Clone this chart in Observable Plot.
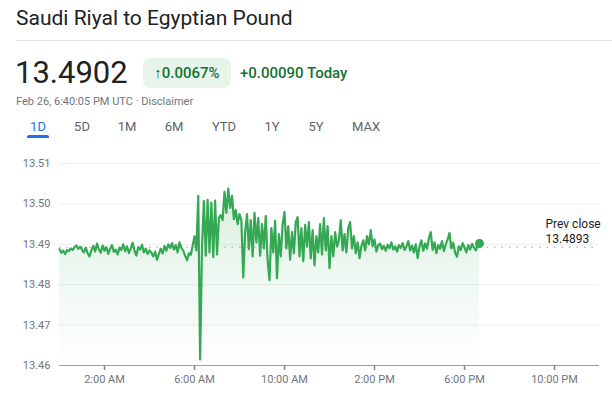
<!DOCTYPE html>
<html>
<head>
<meta charset="utf-8">
<script src="https://cdn.jsdelivr.net/npm/d3@7"></script>
<script src="https://cdn.jsdelivr.net/npm/@observablehq/plot@0.6"></script>
<style>
  html, body { margin: 0; padding: 0; background: #fff; }
  #root { position: relative; width: 612px; height: 398px; overflow: hidden; font-family: Roboto, "Noto Sans", sans-serif; color: #202124; }
  .abs { position: absolute; white-space: nowrap; }
  #title { left: 16px; top: 4px; font-size: 21px; line-height: 28px; color: #202124; }
  #divider { left: 16px; top: 40px; width: 596px; height: 1px; background: #e0e0e0; }
  #price { left: 15px; top: 54px; font-size: 31px; line-height: 38px; color: #202124; }
  #badge { left: 143px; top: 58px; width: 88px; height: 30px; border-radius: 8px; background: #e6f4ea; color: #137333; font-size: 15px; font-weight: 500; line-height: 30px; text-align: center; }
  #change { left: 240px; top: 58px; font-size: 15px; font-weight: 500; line-height: 30px; color: #137333; }
  #stamp { left: 16px; top: 94px; font-size: 11px; line-height: 16px; color: #70757a; }
  .tab { top: 119px; font-size: 13px; font-weight: 400; line-height: 16px; color: #5f6368; transform: translateX(-50%); }
  .tab.active { color: #1a73e8; }
  #underline { left: 27px; top: 135px; width: 22px; height: 3px; background: #1a73e8; border-radius: 2px 2px 0 0; }
  #chart { position: absolute; left: 0; top: 145px; }
</style>
</head>
<body>
<div id="root">
  <div id="title" class="abs"></div>
  <div id="divider" class="abs"></div>
  <div id="price" class="abs"></div>
  <div id="badge" class="abs"></div>
  <div id="change" class="abs"></div>
  <div id="stamp" class="abs"></div>
  <div id="tabs"></div>
  <div id="underline" class="abs"></div>
  <div id="chart"></div>
</div>
<script>
// ---- text content ----
const titleText = "Saudi Riyal to Egyptian Pound";
const currentPrice = "13.4902";
const pctChange = "↑0.0067%";
const absChange = "+0.00090 Today";
const stampText = "Feb 26, 6:40:05 PM UTC · Disclaimer";
const tabLabels = ["1D", "5D", "1M", "6M", "YTD", "1Y", "5Y", "MAX"];
const tabCenters = [38, 82, 127, 174, 224, 272, 316, 366];

// ---- chart data ----
const prevClose = 13.4893;
const yTicks = [13.46, 13.47, 13.48, 13.49, 13.50, 13.51];
const xTickHours = [2, 6, 10, 14, 18, 22];
const stepMinutes = 5; // one reading every 5 minutes from 00:00 UTC
const values = [
  // 0:00
  13.4888, 13.4879, 13.4884, 13.4876, 13.4886, 13.4883, 13.4890, 13.4886, 13.4893, 13.4897, 13.4889, 13.4894,
  // 1:00
  13.4887, 13.4880, 13.4892, 13.4878, 13.4870, 13.4885, 13.4896, 13.4882, 13.4902, 13.4888, 13.4879, 13.4897,
  // 2:00
  13.4884, 13.4893, 13.4876, 13.4889, 13.4898, 13.4881, 13.4887, 13.4875, 13.4892, 13.4886, 13.4900, 13.4883,
  // 3:00
  13.4895, 13.4878, 13.4890, 13.4904, 13.4884, 13.4872, 13.4893, 13.4887, 13.4899, 13.4880, 13.4889, 13.4876,
  // 4:00
  13.4885, 13.4879, 13.4870, 13.4882, 13.4862, 13.4876, 13.4889, 13.4877, 13.4896, 13.4884, 13.4900, 13.4891,
  // 5:00
  13.4903, 13.4887, 13.4898, 13.4880, 13.4905, 13.4891, 13.4884, 13.4872, 13.4860, 13.4878, 13.4874, 13.4896,
  // 6:00
  13.4920, 13.4885, 13.5020, 13.4615, 13.4895, 13.5007, 13.4872, 13.5010, 13.4880, 13.5003, 13.4868, 13.5008,
  // 7:00
  13.4875, 13.4965, 13.4972, 13.4960, 13.5030, 13.4978, 13.5038, 13.4990, 13.5020, 13.4962, 13.4985, 13.4950,
  // 8:00
  13.4975, 13.4960, 13.4818, 13.4930, 13.4975, 13.4888, 13.4960, 13.4870, 13.4978, 13.4905, 13.4965, 13.4872,
  // 9:00
  13.4950, 13.4890, 13.4970, 13.4860, 13.4811, 13.4940, 13.4880, 13.4958, 13.4816, 13.4925, 13.4870, 13.4950,
  // 10:00
  13.4980, 13.4890, 13.4945, 13.4862, 13.4930, 13.4878, 13.4955, 13.4967, 13.4870, 13.4940, 13.4858, 13.4948,
  // 11:00
  13.4895, 13.4955, 13.4865, 13.4935, 13.4848, 13.4920, 13.4880, 13.4950, 13.4875, 13.4965, 13.4885, 13.4945,
  // 12:00
  13.4841, 13.4920, 13.4870, 13.4930, 13.4895, 13.4910, 13.4960, 13.4885, 13.4925, 13.4880, 13.4940, 13.4955,
  // 13:00
  13.4890, 13.4920, 13.4878, 13.4905, 13.4866, 13.4895, 13.4910, 13.4885, 13.4920, 13.4900, 13.4935, 13.4895,
  // 14:00
  13.4912, 13.4882, 13.4898, 13.4902, 13.4888, 13.4896, 13.4884, 13.4899, 13.4890, 13.4905, 13.4887, 13.4895,
  // 15:00
  13.4882, 13.4898, 13.4891, 13.4903, 13.4886, 13.4894, 13.4908, 13.4885, 13.4897, 13.4880, 13.4900, 13.4866,
  // 16:00
  13.4895, 13.4910, 13.4884, 13.4902, 13.4889, 13.4915, 13.4930, 13.4886, 13.4905, 13.4878, 13.4898, 13.4889,
  // 17:00
  13.4908, 13.4883, 13.4900, 13.4912, 13.4928, 13.4890, 13.4904, 13.4879, 13.4869, 13.4895, 13.4886, 13.4903,
  // 18:00
  13.4892, 13.4880, 13.4898, 13.4887, 13.4901, 13.4893, 13.4885, 13.4897, 13.4902
];

// ---- header ----
document.getElementById("title").textContent = titleText;
document.getElementById("price").textContent = currentPrice;
document.getElementById("badge").textContent = pctChange;
document.getElementById("change").textContent = absChange;
document.getElementById("stamp").textContent = stampText;
const tabs = document.getElementById("tabs");
tabLabels.forEach((t, i) => {
  const el = document.createElement("div");
  el.className = "abs tab" + (i === 0 ? " active" : "");
  el.style.left = tabCenters[i] + "px";
  el.textContent = t;
  tabs.appendChild(el);
});

// ---- chart ----
const day0 = Date.UTC(2024, 1, 26, 0, 0, 0);
const data = values.map((v, i) => ({t: new Date(day0 + i * stepMinutes * 60000), v}));
const last = data[data.length - 1];
const xTicks = xTickHours.map(h => new Date(day0 + h * 3600000));
const yBase = yTicks[0];

const chart = Plot.plot({
  width: 612,
  height: 253,
  marginTop: 18,
  marginBottom: 33,
  marginLeft: 59,
  marginRight: 13,
  style: {fontFamily: "Roboto, sans-serif", fontSize: "11px", color: "#70757a", background: "transparent"},
  x: {type: "utc", domain: [new Date(day0), new Date(day0 + 24 * 3600000)]},
  y: {domain: [yTicks[0], yTicks[yTicks.length - 1]]},
  marks: [
    Plot.gridY(yTicks, {stroke: "#eeeff1", strokeOpacity: 1}),
    Plot.areaY(data, {x: "t", y1: () => yBase, y2: "v", fill: "url(#areaGrad)", curve: "linear"}),
    Plot.ruleY([prevClose], {stroke: "#bdc1c6", strokeWidth: 1.5, strokeDasharray: "1.5,6"}),
    Plot.lineY(data, {x: "t", y: "v", stroke: "#34a853", strokeWidth: 2.2, curve: "linear"}),
    Plot.dot([last], {x: "t", y: "v", r: 4.5, fill: "#34a853", stroke: "none"}),
    Plot.ruleY([yBase], {stroke: "#9aa0a6", strokeWidth: 1}),
    Plot.axisY(yTicks, {tickSize: 0, tickPadding: 9, tickFormat: d3.format(".2f"), label: null, fill: "#70757a"}),
    Plot.axisX(xTicks, {tickSize: 5, tickPadding: 5, tickFormat: d3.utcFormat("%-I:%M %p"), label: null, stroke: "#80868b", strokeWidth: 1.5, fill: "#70757a"}),
    Plot.text([{label: "Prev close", value: prevClose}], {
      y: "value",
      text: d => `${d.label}\n${d.value}`,
      frameAnchor: "right",
      textAnchor: "start",
      lineAnchor: "bottom",
      lineHeight: 1.3,
      dx: -54,
      dy: -4,
      fontSize: 12,
      fill: "#202124"
    })
  ]
});

const svg = d3.select(chart);
const grad = svg.insert("defs", ":first-child")
  .append("linearGradient")
  .attr("id", "areaGrad")
  .attr("x1", 0).attr("y1", 0).attr("x2", 0).attr("y2", 1);
grad.append("stop").attr("offset", "0%").attr("stop-color", "#34a853").attr("stop-opacity", 0.2);
grad.append("stop").attr("offset", "40%").attr("stop-color", "#34a853").attr("stop-opacity", 0.1);
grad.append("stop").attr("offset", "100%").attr("stop-color", "#34a853").attr("stop-opacity", 0);

document.getElementById("chart").appendChild(chart);
</script>
</body>
</html>
